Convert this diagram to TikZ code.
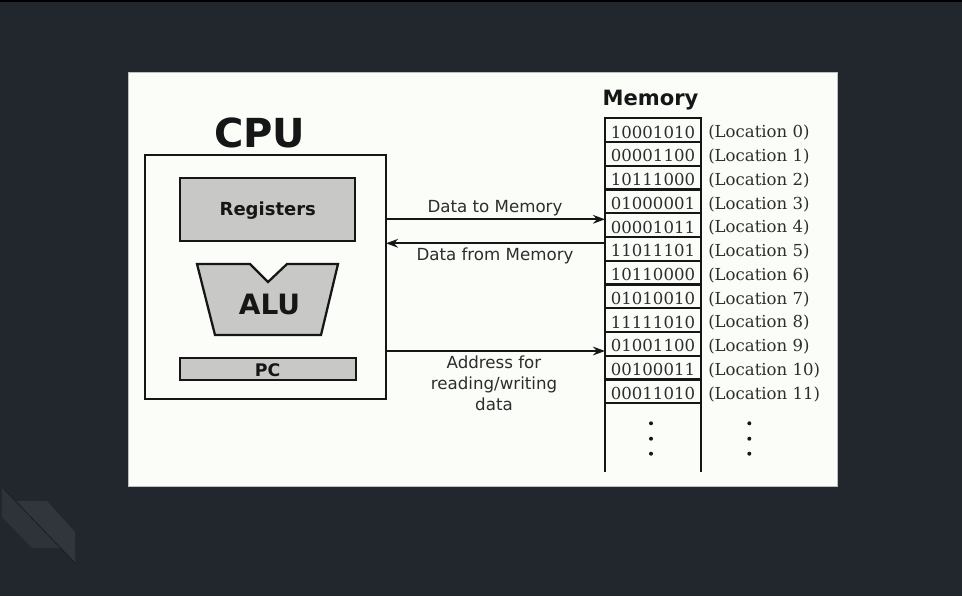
\documentclass[tikz,border=0pt]{standalone}
\usepackage{fontspec}
\setmainfont{DejaVu Sans}
\newfontfamily\memfont{DejaVu Serif}
\usetikzlibrary{positioning, calc, arrows.meta}
\definecolor{bgdark}{HTML}{21272C}
\definecolor{slide}{HTML}{FBFDF9}
\definecolor{boxgray}{HTML}{C8C9C6}
\definecolor{stripeA}{HTML}{2D3338}
\definecolor{stripeB}{HTML}{30363B}
\definecolor{ink}{HTML}{161616}

\begin{document}
\begin{tikzpicture}[x=0.75pt, y=-0.75pt,
	unitbox/.style={draw=ink, line width=1.7pt, fill=boxgray, inner sep=0pt, outer sep=0pt},
	cell/.style={draw=ink, line width=1.7pt, minimum width=72pt, minimum height=17.8pt, inner sep=0pt, outer sep=0pt, text height=12pt, text depth=0pt, text=ink!90, font=\memfont\fontsize{12.4}{14}\selectfont},
	loclabel/.style={anchor=base west, inner sep=0pt, text=ink!90, font=\memfont\fontsize{12.4}{14}\selectfont},
	bus/.style={draw=ink, line width=1.6pt, -{Stealth[length=9pt, width=6.5pt]}},
	buslabel/.style={text=ink!90, font=\fontsize{12.5}{15.75}\selectfont}]
	% dark screen and slide
	\fill[bgdark] (0,0) rectangle (962,596);
	\useasboundingbox (0,0) rectangle (962,596);
	\fill[black] (0,0) rectangle (962,2);
	\fill[stripeA] (2,487) -- (2,517) -- (32,548) -- (61,548) -- cycle;
	\fill[stripeB] (16,501) -- (47,501) -- (75,532) -- (75,563) -- cycle;
	\draw[bgdark!80!black, line width=0.6pt] (2,487) -- (75,563);
	\draw[fill=slide, draw=gray!50, line width=0.6pt] (128,72) rectangle (837,486);
	
	% CPU
	\node[anchor=base, font=\bfseries\fontsize{30}{30}\selectfont, text=ink] (cpulabel) at (259.7,147) {CPU};
	\node[draw=ink, line width=1.7pt, minimum width=180.75pt, minimum height=183pt, outer sep=0pt] (cpu) at (265.5,277) {};
	\node[unitbox, minimum width=131.25pt, minimum height=47.25pt] (regs) at (267.8,209.7) {};
	\node[anchor=base, font=\bfseries\fontsize{13.5}{14}\selectfont, text=ink] at (267.8,215) {Registers};
	\draw[unitbox] (197,264) -- (250,264) -- (268,282) -- (287,264) -- (338,264) -- (321,335) -- (215,335) -- cycle;
	\node[anchor=base, font=\bfseries\fontsize{21}{21}\selectfont, text=ink] (alu) at (269.5,314.3) {ALU};
	\node[unitbox, minimum width=132pt, minimum height=16.5pt] (pc) at (267.7,369.2) {};
	\node[anchor=base, font=\bfseries\fontsize{13}{13}\selectfont, text=ink] at (267.7,376) {PC};
	
	% memory
	\node[anchor=base, font=\bfseries\fontsize{15.8}{16}\selectfont, text=ink] (memlabel) at (650.5,105.5) {Memory};
	\foreach \val [count=\i from 0] in {10001010,00001100,10111000,01000001,00001011,11011101,10110000,01010010,11111010,01001100,00100011,00011010} {
		\node[cell] (cell\i) at (653,{118.3+23.75*(\i+0.5)}) {\val};
		\node[loclabel] at (708,{118.3+23.75*(\i+0.5)+7.6}) {(Location \i)};
	}
	\draw[draw=ink, line width=1.7pt] (cell11.south west) -- ++(0,69);
	\draw[draw=ink, line width=1.7pt] (cell11.south east) -- ++(0,69);
	\foreach \y in {423.3,438.7,453.7} {
		\fill[ink] (651,\y) circle (1.5pt);
		\fill[ink] (749.3,\y) circle (1.5pt);
	}
	
	% buses
	\draw[bus] (cpu.east |- 0,219.3) -- (cell4.west |- 0,219.3);
	\node[buslabel, anchor=base] at (495,212.3) {Data to Memory};
	\draw[bus] (cell5.west |- 0,243.3) -- (cpu.east |- 0,243.3);
	\node[buslabel, anchor=base] at (495,260.5) {Data from Memory};
	\draw[bus] (cpu.east |- 0,351) -- (cell9.west |- 0,351);
	\node[buslabel, align=center] at (494,383) {Address for\\reading/writing\\data};
\end{tikzpicture}
\end{document}
